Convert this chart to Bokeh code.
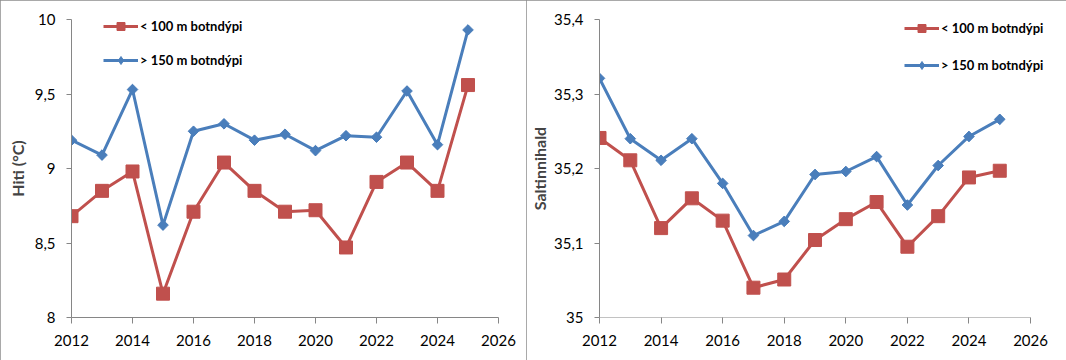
from bokeh.plotting import figure
from bokeh.layouts import row
from bokeh.models import Range1d, FixedTicker, Legend, LegendItem
from bokeh.embed import file_html
from bokeh.resources import INLINE
import numpy as np

# ---------------- data ----------------
years = list(range(2012, 2026))
temp_shallow = [8.68, 8.85, 8.98, 8.16, 8.71, 9.04, 8.85, 8.71, 8.72, 8.47, 8.91, 9.04, 8.85, 9.56]
temp_deep = [9.19, 9.09, 9.53, 8.62, 9.25, 9.30, 9.19, 9.23, 9.12, 9.22, 9.21, 9.52, 9.16, 9.93]
sal_shallow = [35.241, 35.211, 35.120, 35.160, 35.130, 35.040, 35.051, 35.104, 35.132, 35.155, 35.095, 35.136, 35.188, 35.197]
sal_deep = [35.321, 35.240, 35.211, 35.240, 35.180, 35.110, 35.129, 35.192, 35.196, 35.216, 35.151, 35.204, 35.243, 35.266]
series_labels = ["< 100 m botndýpi", "> 150 m botndýpi"]
x_ticks = [2012, 2014, 2016, 2018, 2020, 2022, 2024, 2026]
temp_ticks = [8, 8.5, 9, 9.5, 10]
temp_tick_labels = ["8", "8,5", "9", "9,5", "10"]
sal_ticks = [35.0, 35.1, 35.2, 35.3, 35.4]
sal_tick_labels = ["35", "35,1", "35,2", "35,3", "35,4"]
y_titles = ["Hiti (°C)", "Saltinnihald"]

RED = "#C0504D"
BLUE = "#4A7EBB"
AXIS = "#868686"
FONT = "Lato"
H = 360


def make_chart(width, ylo, yhi, yticks, ylabels, ytitle, shallow, deep,
               left, frame_right_px, extra_px, leg_x, leg_y, leg_spacing, title_standoff):
    # frame spans 2012..2026 over frame_right_px-left pixels, plus extra room on the right
    span = x_ticks[-1] - x_ticks[0]
    x_end = x_ticks[-1] + span * extra_px / (frame_right_px - left)
    right = width - frame_right_px - extra_px
    p = figure(width=width, height=H, output_backend="svg", toolbar_location=None,
               x_range=Range1d(x_ticks[0], x_end), y_range=Range1d(ylo, yhi),
               min_border_left=left, min_border_right=right,
               min_border_top=19, min_border_bottom=H - 317)
    p.styles = {"outline": "1px solid #8c8c8c", "outline-offset": "-1px"}
    p.outline_line_color = None
    p.xgrid.visible = False
    p.ygrid.visible = False
    p.background_fill_color = "white"
    p.border_fill_color = "white"

    for ax in (p.xaxis[0], p.yaxis[0]):
        ax.axis_line_color = AXIS
        ax.axis_line_width = 1
        ax.major_tick_line_color = AXIS
        ax.minor_tick_line_color = None
        ax.major_tick_in = 0
        ax.major_label_text_font = FONT
        ax.major_label_text_font_size = "15px"
        ax.major_label_text_color = "#000000"

    p.xaxis.ticker = FixedTicker(ticks=x_ticks)
    p.xaxis.major_tick_out = 6
    p.xaxis.major_label_standoff = 11
    p.xaxis.major_label_overrides = {t: str(t) for t in x_ticks}
    if extra_px > 0:
        p.xaxis.axis_line_color = None
        p.segment(x0=[x_ticks[0]], y0=[ylo], x1=[x_ticks[-1]], y1=[ylo],
                  line_color=AXIS, line_width=1)

    p.yaxis.ticker = FixedTicker(ticks=yticks)
    p.yaxis.major_tick_out = 5
    p.yaxis.major_label_standoff = 11
    p.yaxis.major_label_overrides = {t: l for t, l in zip(yticks, ylabels)}
    p.yaxis.axis_label = ytitle
    p.yaxis.axis_label_text_font = FONT
    p.yaxis.axis_label_text_font_style = "bold"
    p.yaxis.axis_label_text_font_size = "16px"
    p.yaxis.axis_label_standoff = title_standoff

    l1 = p.line(years, shallow, line_color=RED, line_width=3)
    m1 = p.scatter(years, shallow, marker="square", size=13, fill_color=RED, line_color=RED)
    l2 = p.line(years, deep, line_color=BLUE, line_width=3)
    # diamond used for the legend swatch; it sits fully hidden under the rotated squares
    m2_leg = p.scatter(years, deep, marker="diamond", size=9.5,
                       fill_color=BLUE, line_color=BLUE)
    p.scatter(years, deep, marker="square", angle=np.pi / 4, size=7.5,
              fill_color=BLUE, line_color=BLUE)

    legend = Legend(items=[LegendItem(label=series_labels[0], renderers=[l1, m1]),
                           LegendItem(label=series_labels[1], renderers=[l2, m2_leg])],
                    location=(leg_x, leg_y))
    legend.padding = 0
    legend.margin = 0
    legend.border_line_color = None
    legend.background_fill_alpha = 0
    legend.glyph_width = 35
    legend.glyph_height = 20
    legend.label_height = 20
    legend.spacing = leg_spacing
    legend.label_standoff = 2
    legend.label_text_font = FONT
    legend.label_text_font_style = "bold"
    legend.label_text_font_size = "13px"
    legend.label_text_color = "#000000"
    p.add_layout(legend, "center")
    return p


p1 = make_chart(526, 8, 10, temp_ticks, temp_tick_labels, y_titles[0], temp_shallow, temp_deep,
                71, 498, 0, 32, 247, 14, 5)
p2 = make_chart(540, 35.0, 35.4, sal_ticks, sal_tick_labels, y_titles[1], sal_shallow, sal_deep,
                72, 504, 24, 305, 242, 17, 2)

layout = row(p1, p2, spacing=0)
open("out.html", "w").write(file_html(layout, INLINE))
